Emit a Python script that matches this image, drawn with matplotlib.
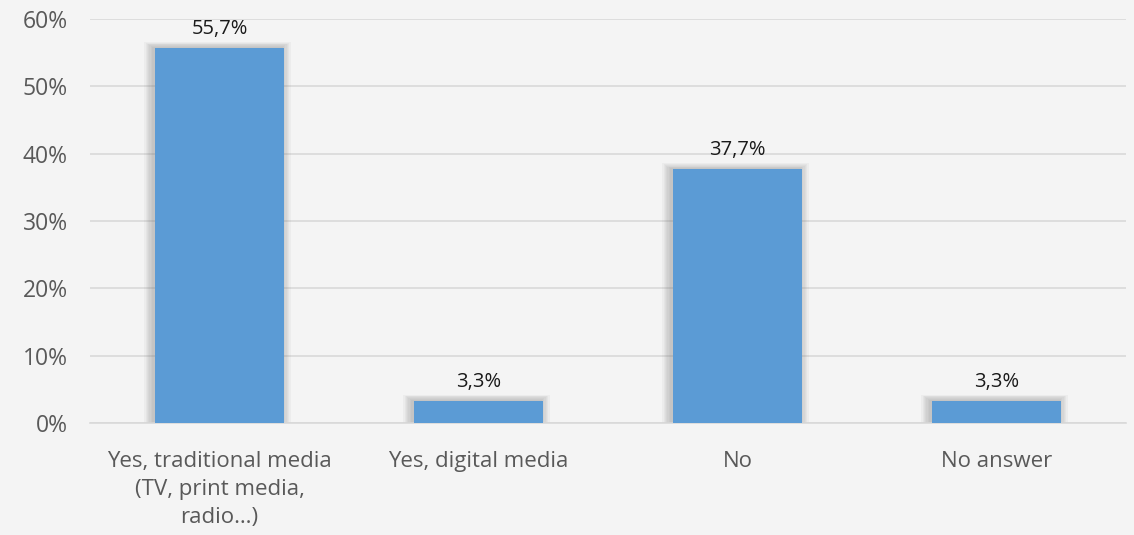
import matplotlib.pyplot as plt
import numpy as np

categories = ["Yes, traditional media\n(TV, print media,\nradio…)",
              "Yes, digital media", "No", "No answer"]
values = [55.7, 3.3, 37.7, 3.3]
labels = ["55,7%", "3,3%", "37,7%", "3,3%"]
yticks = [0, 10, 20, 30, 40, 50, 60]

plt.rcParams['font.family'] = ['Open Sans', 'DejaVu Sans']

bg = "#F4F4F4"
fig = plt.figure(figsize=(11.34, 5.35), dpi=100, facecolor=bg)
ax = fig.add_axes([0.0794, 0.2093, 0.9136, 0.7552], facecolor=bg)

x = np.arange(len(categories))
w = 0.495

# soft shadow: stacked translucent bars slightly larger than the real ones
for k in range(7, 0, -1):
    grow = 0.005 * k
    ax.bar(x - 0.008, np.array(values) + 0.13 * k, width=w + 2 * grow,
           color="#707070", alpha=0.06, linewidth=0, zorder=2)

ax.bar(x, values, width=w, color="#5B9BD5", linewidth=0, zorder=3)

for xi, v, lab in zip(x, values, labels):
    ax.text(xi, v + 1.3, lab, ha="center", va="bottom", fontsize=14.5,
            color="#1a1a1a", zorder=4)

ax.set_xlim(-0.5, len(categories) - 0.5)
ax.set_ylim(0, 60)
ax.set_yticks(yticks)
ax.set_yticklabels([f"{t}%" for t in yticks])
ax.set_xticks(x)
ax.set_xticklabels(categories, linespacing=1.45)
ax.yaxis.grid(True, color="#D9D9D9", linewidth=1.2, zorder=0)
ax.set_axisbelow(True)
for s in ["top", "right", "left"]:
    ax.spines[s].set_visible(False)
ax.spines["bottom"].set_color("#D9D9D9")
ax.spines["bottom"].set_linewidth(1.2)
ax.tick_params(axis="y", length=0, labelsize=16.5, labelcolor="#595959", pad=16)
ax.tick_params(axis="x", length=0, labelsize=16, labelcolor="#595959", pad=20)

fig.savefig("out.png", dpi=100, facecolor=bg)
